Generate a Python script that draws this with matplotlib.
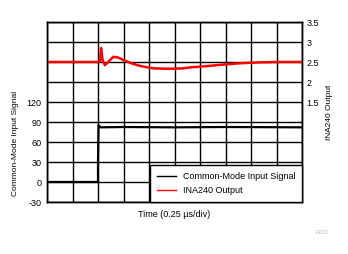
import matplotlib
matplotlib.use("Agg")
import matplotlib.pyplot as plt

# ==========================================================
# DATA (time in divisions, 0.25 us/div)
# ==========================================================

cm_time = [0.0, 2.0, 2.0, 2.02, 2.05, 2.1, 3.0, 5.0, 7.0, 10.0]
cm_value = [0.0, 0.0, 30.0, 85.0, 84.0, 82.0, 82.5, 82.0, 82.5, 82.0]

out_time = [0.0, 2.0, 2.08, 2.12, 2.18, 2.27, 2.4, 2.6, 2.8, 3.0, 3.3, 3.6,
            3.9, 4.2, 4.8, 5.3, 5.7, 6.3, 7.0, 7.6, 8.3, 9.0, 10.0]
out_value = [2.5, 2.5, 2.52, 2.85, 2.55, 2.42, 2.5, 2.63, 2.61, 2.55, 2.47, 2.41,
             2.37, 2.34, 2.33, 2.34, 2.37, 2.40, 2.44, 2.47, 2.49, 2.5, 2.5]

left_ticks = [-30, 0, 30, 60, 90, 120]
right_ticks = [1.5, 2, 2.5, 3, 3.5]
right_labels = ["1.5", "2", "2.5", "3", "3.5"]

# ==========================================================
# FIGURE
# ==========================================================

plt.rcParams["font.family"] = ["Liberation Sans", "DejaVu Sans"]
plt.rcParams["font.size"] = 6.5

fig = plt.figure(figsize=(3.48, 2.54), dpi=100)
ax = fig.add_axes([47 / 348, 52 / 254, 255 / 348, 180 / 254])
ax2 = ax.twinx()

ax.set_xlim(0, 10)
ax.set_ylim(-30, 240)
ax2.set_ylim(-1.0, 3.5)

ax.set_xticks(range(11))
ax.set_xticklabels([])
ax.set_yticks(range(-30, 241, 30))
ax.set_yticklabels([str(v) if v in left_ticks else "" for v in range(-30, 241, 30)])
ax.tick_params(length=0, pad=4)
ax2.set_yticks(right_ticks)
ax2.set_yticklabels(right_labels)
ax2.tick_params(length=0, pad=3)

ax.grid(True, color="black", linewidth=1.0)
ax.set_axisbelow(True)
for a in (ax, ax2):
    for s in a.spines.values():
        s.set_linewidth(1.0)

ax.plot(cm_time, cm_value, color="black", linewidth=1.6)
ax2.plot(out_time, out_value, color="red", linewidth=1.8)

ax.set_xlabel("Time (0.25 \u00b5s/div)", labelpad=2)
ax.set_ylabel("Common-Mode Input Signal", fontsize=6)
ax.yaxis.set_label_coords(-0.11, 0.325)
ax2.set_ylabel("INA240 Output", fontsize=6)
ax2.yaxis.set_label_coords(1.094, 0.5)

h1, = ax2.plot([], [], color="black", linewidth=1.0)
h2, = ax2.plot([], [], color="red", linewidth=1.0)
leg = ax2.legend([h1, h2], ["Common-Mode Input Signal", "INA240 Output"],
                 loc="lower right", borderaxespad=0, fancybox=False,
                 framealpha=1, edgecolor="black", handlelength=2.2,
                 handletextpad=0.7, borderpad=0.75, labelspacing=0.6,
                 fontsize=6.5)
leg.get_frame().set_linewidth(1.0)

fig.text(322 / 348, 1 - 232 / 254, "D021", fontsize=4, color="#bbbbbb",
         ha="center", va="center")

plt.savefig("out.png", dpi=100)
plt.close()
